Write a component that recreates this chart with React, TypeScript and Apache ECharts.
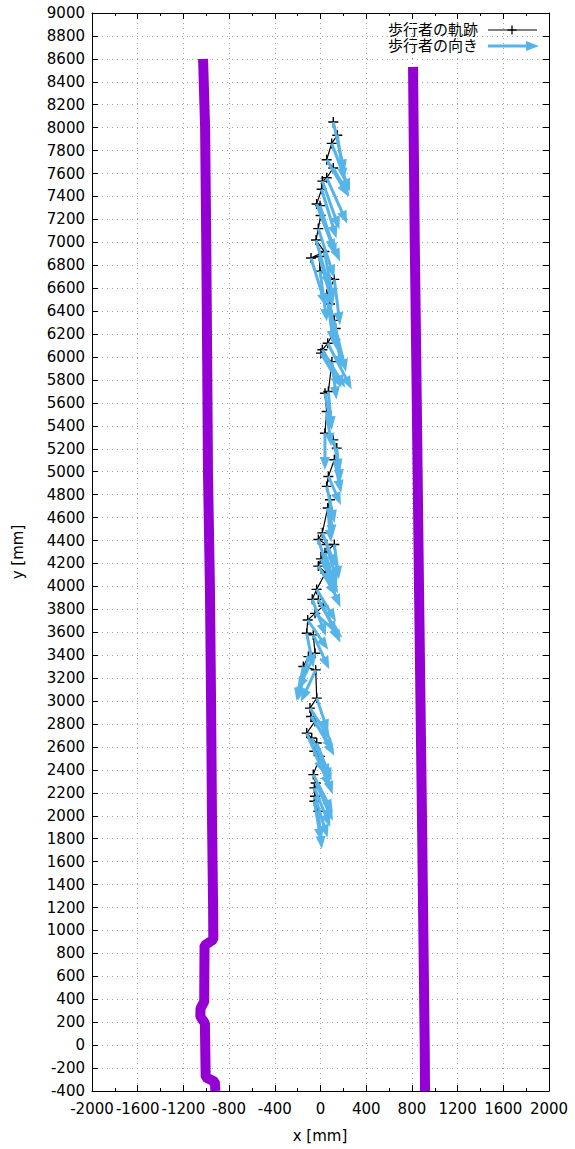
import React, { useEffect, useRef } from "react";
import * as echarts from "echarts";

// ---- data (mm) ----
const xTicksMin = -2000;
const xTicksMax = 2000;
const yTicksMin = -400;
const yTicksMax = 9000;

const leftWallX = [-1028, -1010, -1000, -992, -985, -968, -958, -950, -940, -938, -1015, -1018, -1050, -1052, -1012, -1005, -925, -920];
const leftWallY = [8600, 8000, 7000, 6000, 5000, 4000, 3000, 2000, 1200, 920, 870, 380, 320, 250, 190, -280, -320, -400];

const rightWallX = [810, 815, 825, 838, 850, 862, 875, 888, 900, 912, 915];
const rightWallY = [8530, 8000, 7000, 6000, 5000, 4000, 3000, 2000, 1000, 0, -400];

const trajX = [112, 147, 98, 54, 112, 54, 16, 10, -34, -4, 1, -19, -39, 34, -83, -10, -4, 121, 54, 83, 121, 133, 63, 16, 4, 100,
  69, 39, 54, 39, 112, 142, 121, 69, 54, 83, 63, 16, -19, 54, 121, 39, 4, -19, 45, -34, -72, -19, 25,
  -48, -112, -121, -63, -48, -106, -150, -42, -33, -92, -83, -48, -121, -77, -33, -54, -4, -63, -42, -54, -48, -54, -19];
const trajY = [8049, 7934, 7863, 7720, 7649, 7563, 7534, 7463, 7334, 7320, 7234, 7120, 7020, 6920, 6863, 6877, 6749, 6677, 6549, 6463, 6320, 6249, 6120, 6063, 6034, 5960,
  5699, 5684, 5525, 5336, 5278, 5206, 5104, 4959, 4872, 4756, 4684, 4467, 4409, 4365, 4365, 4293, 4240, 4177, 4119, 3974, 3887, 3887, 3829,
  3765, 3707, 3591, 3577, 3417, 3388, 3301, 3272, 3026, 2939, 2866, 2823, 2721, 2678, 2634, 2562, 2518, 2359, 2286, 2243, 2170, 2127, 2040];

const arrowDX = [100, 60, 160, 190, 140, 180, 150, 130, 160, 140, 170, 140, 120, 80, 130, 120, 60, 50, 60, 70, 60, 90, 210, 200, 180, 40,
  30, 60, 40, 0, 60, 30, 60, 110, 70, 20, 30, 120, 100, 90, 40, 100, 150, 160, 130, 170, 120, 160, 150,
  240, 180, 60, 140, -150, -90, -60, -130, 100, 180, 200, 170, 150, 160, 130, 140, 110, 170, 150, 140, 110, 60, 30];
const arrowDY = [-440, -400, -420, -320, -250, -400, -420, -430, -420, -440, -400, -430, -420, -430, -420, -440, -440, -400, -430, -420, -420, -380, -400, -330, -300, -330,
  -330, -320, -300, -320, -280, -300, -290, -250, -320, -330, -300, -300, -320, -330, -300, -320, -300, -260, -300, -280, -320, -300, -320,
  -210, -260, -300, -300, -320, -380, -300, -280, -300, -280, -300, -300, -350, -340, -330, -320, -330, -330, -330, -340, -360, -350, -330];

const legendTraj = "歩行者の軌跡";
const legendDir = "歩行者の向き";

const WALL = "#9400d3";
const BLUE = "#56b4e9";
const FONT = "'DejaVu Sans', 'Noto Sans CJK JP', sans-serif";
const PLUS = "path://M4.3,0H5.7V4.3H10V5.7H5.7V10H4.3V5.7H0V4.3H4.3Z";

export default function App() {
  const ref = useRef<HTMLDivElement>(null);

  useEffect(() => {
    if (!ref.current) return;
    const chart = echarts.init(ref.current, undefined, { renderer: "svg" });

    const axisCommon = {
      type: "value" as const,
      axisLine: { show: true, onZero: false, lineStyle: { color: "#000", width: 1 } },
    };
    const fmt = (v: number) => String(v);

    const option: any = {
      animation: false,
      backgroundColor: "#fff",
      textStyle: { fontFamily: FONT },
      grid: { left: 92, right: 26, top: 13, bottom: 58, containLabel: false },
      xAxis: [
        {
          ...axisCommon,
          position: "bottom",
          min: xTicksMin,
          max: xTicksMax,
          interval: 400,
          axisTick: { show: true, inside: true, length: 6, lineStyle: { color: "#000" } },
          minorTick: { show: true, splitNumber: 2, length: 3, lineStyle: { color: "#000" } },
          axisLabel: {
            color: "#000", fontSize: 15, fontFamily: FONT, margin: 10, formatter: fmt,
            showMinLabel: true, showMaxLabel: true, hideOverlap: false,
          },
          splitLine: { show: true, lineStyle: { color: "#a0a0a0", type: [1, 4], width: 1 } },
        },
        {
          ...axisCommon,
          position: "top",
          min: xTicksMin,
          max: xTicksMax,
          interval: 400,
          axisTick: { show: true, inside: true, length: 6, lineStyle: { color: "#000" } },
          minorTick: { show: true, splitNumber: 2, length: 3, lineStyle: { color: "#000" } },
          axisLabel: { show: false },
          splitLine: { show: false },
        },
      ],
      yAxis: [
        {
          ...axisCommon,
          position: "left",
          min: yTicksMin,
          max: yTicksMax,
          interval: 200,
          axisTick: { show: true, inside: true, length: 6, lineStyle: { color: "#000" } },
          axisLabel: {
            color: "#000", fontSize: 15, fontFamily: FONT, margin: 7, formatter: fmt,
            showMinLabel: true, showMaxLabel: true, hideOverlap: false,
          },
          splitLine: { show: true, lineStyle: { color: "#a0a0a0", type: [1, 4], width: 1 } },
        },
        {
          ...axisCommon,
          position: "right",
          min: yTicksMin,
          max: yTicksMax,
          interval: 200,
          axisTick: { show: true, inside: true, length: 6, lineStyle: { color: "#000" } },
          axisLabel: { show: false },
          splitLine: { show: false },
        },
      ],
      series: [
        {
          type: "line",
          name: "wallL",
          data: leftWallX.map((x, i) => [x, leftWallY[i]]),
          showSymbol: false,
          lineStyle: { color: WALL, width: 10 },
          itemStyle: { color: WALL },
          z: 2,
        },
        {
          type: "line",
          name: "wallR",
          data: rightWallX.map((x, i) => [x, rightWallY[i]]),
          showSymbol: false,
          lineStyle: { color: WALL, width: 10 },
          itemStyle: { color: WALL },
          z: 2,
        },
        {
          type: "line",
          name: legendTraj,
          data: trajX.map((x, i) => [x, trajY[i]]),
          symbol: PLUS,
          symbolSize: 10,
          showAllSymbol: true,
          lineStyle: { color: "#000", width: 1.2 },
          itemStyle: { color: "#000" },
          z: 3,
        },
        {
          type: "custom",
          name: legendDir,
          data: trajX.map((x, i) => [x, trajY[i], arrowDX[i], arrowDY[i]]),
          encode: { x: 0, y: 1 },
          z: 4,
          renderItem: (params: any, api: any) => {
            const x = api.value(0);
            const y = api.value(1);
            const dx = api.value(2);
            const dy = api.value(3);
            const p0 = api.coord([x, y]);
            const p1 = api.coord([x + dx, y + dy]);
            const vx = p1[0] - p0[0];
            const vy = p1[1] - p0[1];
            const len = Math.hypot(vx, vy) || 1;
            const ux = vx / len;
            const uy = vy / len;
            const hl = 13;
            const hw = 5;
            const bx = p1[0] - ux * hl;
            const by = p1[1] - uy * hl;
            return {
              type: "group",
              children: [
                {
                  type: "line",
                  shape: { x1: p0[0], y1: p0[1], x2: bx + ux * 2, y2: by + uy * 2 },
                  style: { stroke: BLUE, lineWidth: 3 },
                },
                {
                  type: "polygon",
                  shape: {
                    points: [
                      [p1[0], p1[1]],
                      [bx - uy * hw, by + ux * hw],
                      [bx + uy * hw, by - ux * hw],
                    ],
                  },
                  style: { fill: BLUE },
                },
              ],
            };
          },
        },
      ],
      graphic: [
        {
          type: "text",
          x: 478,
          y: 30,
          style: { text: legendTraj, fill: "#000", font: `15px ${FONT}`, align: "right", textAlign: "right", verticalAlign: "middle", textVerticalAlign: "middle" },
        },
        { type: "line", shape: { x1: 488, y1: 30, x2: 537, y2: 30 }, style: { stroke: "#000", lineWidth: 1 } },
        { type: "line", shape: { x1: 507.5, y1: 30, x2: 516.5, y2: 30 }, style: { stroke: "#000", lineWidth: 1.3 } },
        { type: "line", shape: { x1: 512, y1: 25.5, x2: 512, y2: 34.5 }, style: { stroke: "#000", lineWidth: 1.3 } },
        {
          type: "text",
          x: 478,
          y: 46,
          style: { text: legendDir, fill: "#000", font: `15px ${FONT}`, align: "right", textAlign: "right", verticalAlign: "middle", textVerticalAlign: "middle" },
        },
        { type: "line", shape: { x1: 488, y1: 46, x2: 527, y2: 46 }, style: { stroke: BLUE, lineWidth: 3 } },
        { type: "polygon", shape: { points: [[539, 46], [526, 41], [526, 51]] }, style: { fill: BLUE } },
        {
          type: "text",
          x: 320,
          y: 1136,
          style: { text: "x [mm]", fill: "#000", font: `15px ${FONT}`, align: "center", textAlign: "center", verticalAlign: "middle", textVerticalAlign: "middle" },
        },
        {
          type: "text",
          x: 18,
          y: 552,
          rotation: Math.PI / 2,
          style: { text: "y [mm]", fill: "#000", font: `15px ${FONT}`, align: "center", textAlign: "center", verticalAlign: "middle", textVerticalAlign: "middle" },
        },
      ],
    };

    chart.setOption(option);
    return () => chart.dispose();
  }, []);

  return (
    <div
      ref={ref}
      style={{ position: "absolute", left: 0, top: 0, width: 575, height: 1149, background: "#fff" }}
    />
  );
}
